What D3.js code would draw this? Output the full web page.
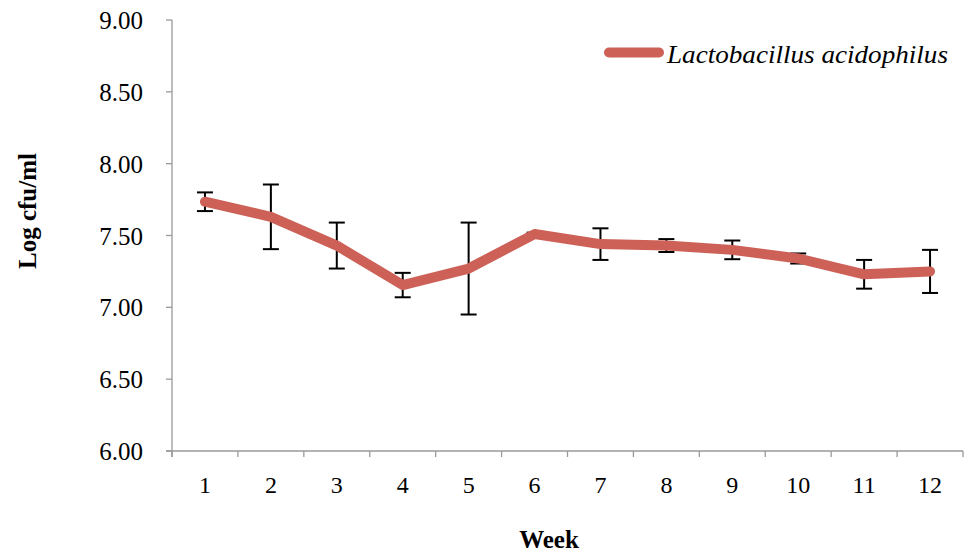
<!DOCTYPE html>
<html><head><meta charset="utf-8">
<script src="https://cdn.jsdelivr.net/npm/d3@7"></script>
<style>body{margin:0;background:#fff}svg{display:block}
svg text{font-family:"Liberation Serif","Times New Roman",Times,serif;}
</style>
</head><body>
<svg id="c" width="967" height="560"></svg>
<script>
const weeks = ["1","2","3","4","5","6","7","8","9","10","11","12"];
const means = [7.735, 7.63, 7.43, 7.155, 7.27, 7.51, 7.44, 7.43, 7.40, 7.34, 7.23, 7.25];
const sds   = [0.065, 0.225, 0.16, 0.085, 0.32, 0.01, 0.11, 0.045, 0.065, 0.035, 0.10, 0.15];
const yTicks = [6.0, 6.5, 7.0, 7.5, 8.0, 8.5, 9.0];
const seriesName = "Lactobacillus acidophilus";

const svg = d3.select("#c");
const L = 172, R = 963, T = 20, B = 451;
const x = d3.scaleBand().domain(weeks).range([L, R]);
const y = d3.scaleLinear().domain([6, 9]).range([B, T]);
const axisColor = "#9a9a9a";

// Y axis
svg.append("line").attr("x1", L).attr("x2", L).attr("y1", T).attr("y2", B + 6)
  .attr("stroke", axisColor).attr("stroke-width", 1.3);
svg.selectAll(".yt").data(yTicks).join("line")
  .attr("x1", L - 6).attr("x2", L).attr("y1", d => y(d)).attr("y2", d => y(d))
  .attr("stroke", axisColor).attr("stroke-width", 1.3);
svg.selectAll(".yl").data(yTicks).join("text")
  .attr("x", 143).attr("y", d => y(d) + 9)
  .attr("text-anchor", "end").attr("font-size", 25)
  .attr("fill", "#000").text(d => d.toFixed(2));

// X axis
svg.append("line").attr("x1", L - 6).attr("x2", R).attr("y1", B).attr("y2", B)
  .attr("stroke", axisColor).attr("stroke-width", 1.3);
const bounds = weeks.map(w => x(w)).concat([R]);
svg.selectAll(".xt").data(bounds).join("line")
  .attr("x1", d => d).attr("x2", d => d).attr("y1", B).attr("y2", B + 6)
  .attr("stroke", axisColor).attr("stroke-width", 1.3);
svg.selectAll(".xl").data(weeks).join("text")
  .attr("x", d => x(d) + x.bandwidth() / 2).attr("y", 493)
  .attr("text-anchor", "middle").attr("font-size", 24)
  .attr("fill", "#000").text(d => d);

// Titles
svg.append("text").attr("x", 549).attr("y", 548).attr("text-anchor", "middle")
  .attr("font-size", 25).attr("font-weight", "bold").text("Week");
svg.append("text").attr("transform", "translate(36,211) rotate(-90)").attr("text-anchor", "middle")
  .attr("font-size", 25).attr("font-weight", "bold").text("Log cfu/ml");

const cx = d => x(d) + x.bandwidth() / 2;
const lineColor = "#cd6158";

// Error bars (beneath the line)
const eb = svg.append("g").attr("stroke", "#000").attr("stroke-width", 2);
weeks.forEach((w, i) => {
  const xc = cx(w), hi = y(means[i] + sds[i]), lo = y(means[i] - sds[i]);
  eb.append("line").attr("x1", xc).attr("x2", xc).attr("y1", hi).attr("y2", lo);
  eb.append("line").attr("x1", xc - 8).attr("x2", xc + 8).attr("y1", hi).attr("y2", hi);
  eb.append("line").attr("x1", xc - 8).attr("x2", xc + 8).attr("y1", lo).attr("y2", lo);
});

// Line
svg.append("path").datum(weeks.map((w, i) => [cx(w), y(means[i])]))
  .attr("d", d3.line()).attr("fill", "none").attr("stroke", lineColor)
  .attr("stroke-width", 10).attr("stroke-linecap", "round").attr("stroke-linejoin", "round");

// Legend
svg.append("line").attr("x1", 609).attr("x2", 659).attr("y1", 52.5).attr("y2", 52.5)
  .attr("stroke", lineColor).attr("stroke-width", 10).attr("stroke-linecap", "round");
svg.append("text").attr("x", 667).attr("y", 63)
  .attr("font-style", "italic").attr("font-size", 25).attr("textLength", 281)
  .attr("lengthAdjust", "spacingAndGlyphs").text(seriesName);
</script>
</body></html>
